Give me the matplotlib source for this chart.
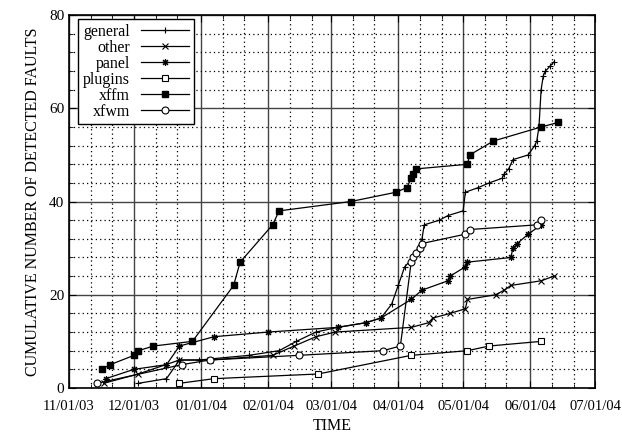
import matplotlib
matplotlib.use('Agg')
import matplotlib.pyplot as plt
import matplotlib.dates as mdates
import pandas as pd

plt.rcParams['font.family'] = ['Liberation Serif', 'DejaVu Serif']

# cumulative detected faults per component
general_dates = ['2003-12-03', '2003-12-16', '2003-12-22', '2003-12-31', '2004-01-23',
                 '2004-02-06', '2004-02-14', '2004-02-23', '2004-03-04', '2004-03-17',
                 '2004-03-24', '2004-03-29', '2004-04-01', '2004-04-04', '2004-04-08',
                 '2004-04-12', '2004-04-13', '2004-04-20', '2004-04-24', '2004-05-01',
                 '2004-05-02', '2004-05-08', '2004-05-13', '2004-05-19', '2004-05-20',
                 '2004-05-22', '2004-05-24', '2004-05-31', '2004-06-03', '2004-06-04',
                 '2004-06-05', '2004-06-06', '2004-06-07', '2004-06-08', '2004-06-10',
                 '2004-06-12']
general_counts = [1, 2, 6, 6, 7, 8, 10, 12, 13, 14, 15, 18, 22, 26, 28, 32, 35, 36, 37, 38,
                  42, 43, 44, 45, 46, 47, 49, 50, 52, 53, 56, 64, 67, 68, 69, 70]

other_dates = ['2003-11-17', '2003-12-03', '2003-12-22', '2004-01-05', '2004-02-03',
               '2004-02-13', '2004-02-23', '2004-03-03', '2004-04-07', '2004-04-15',
               '2004-04-17', '2004-04-25', '2004-05-02', '2004-05-03', '2004-05-16',
               '2004-05-20', '2004-05-23', '2004-06-06', '2004-06-12']
other_counts = [1, 3, 6, 6, 7, 9, 11, 12, 13, 14, 15, 16, 17, 19, 20, 21, 22, 23, 24]

panel_dates = ['2003-11-18', '2003-12-01', '2003-12-16', '2003-12-22', '2004-01-07',
               '2004-02-01', '2004-03-04', '2004-03-17', '2004-03-24', '2004-04-07',
               '2004-04-12', '2004-04-24', '2004-04-25', '2004-05-02', '2004-05-03',
               '2004-05-23', '2004-05-24', '2004-05-26', '2004-05-31', '2004-06-06']
panel_counts = [2, 4, 5, 9, 11, 12, 13, 14, 15, 19, 21, 23, 24, 26, 27, 28, 30, 31, 33, 35]

plugins_dates = ['2003-12-22', '2004-01-07', '2004-02-24', '2004-04-07', '2004-05-03',
                 '2004-05-13', '2004-06-06']
plugins_counts = [1, 2, 3, 7, 8, 9, 10]

xffm_dates = ['2003-11-16', '2003-11-20', '2003-12-01', '2003-12-03', '2003-12-10',
              '2003-12-28', '2004-01-16', '2004-01-19', '2004-02-03', '2004-02-06',
              '2004-03-10', '2004-03-31', '2004-04-05', '2004-04-07', '2004-04-08',
              '2004-04-09', '2004-05-03', '2004-05-04', '2004-05-15', '2004-06-06',
              '2004-06-14']
xffm_counts = [4, 5, 7, 8, 9, 10, 22, 27, 35, 38, 40, 42, 43, 45, 46, 47, 48, 50, 53, 56, 57]

xfwm_dates = ['2003-11-14', '2003-12-23', '2004-01-05', '2004-02-15', '2004-03-25',
              '2004-04-02', '2004-04-07', '2004-04-08', '2004-04-09', '2004-04-11',
              '2004-04-12', '2004-05-02', '2004-05-04', '2004-06-04', '2004-06-06']
xfwm_counts = [1, 5, 6, 7, 8, 9, 27, 28, 29, 30, 31, 33, 34, 35, 36]

month_ticks = ['2003-11-01', '2003-12-01', '2004-01-01', '2004-02-01', '2004-03-01',
               '2004-04-01', '2004-05-01', '2004-06-01', '2004-07-01']

fig = plt.figure(figsize=(6.22, 4.33), dpi=100)
ax = fig.add_axes([0.111, 0.104, 0.846, 0.861])

series = [
    ('general', general_dates, general_counts, dict(marker='+', ms=5, mew=0.8)),
    ('other', other_dates, other_counts, dict(marker='x', ms=4, mew=0.8)),
    ('panel', panel_dates, panel_counts, dict(marker=(8, 2, 0), ms=5, mew=0.8)),
    ('plugins', plugins_dates, plugins_counts, dict(marker='s', ms=5, mfc='white', mew=0.8)),
    ('xffm', xffm_dates, xffm_counts, dict(marker='s', ms=4.5, mfc='black')),
    ('xfwm', xfwm_dates, xfwm_counts, dict(marker='o', ms=5, mfc='white', mew=0.8)),
]
for name, d, c, style in series:
    ax.plot(pd.to_datetime(d), c, color='black', lw=0.9, label=name, **style)

ax.set_xlim(pd.Timestamp(month_ticks[0]), pd.Timestamp(month_ticks[-1]))
ax.set_ylim(0, 80)
ax.set_xticks(pd.to_datetime(month_ticks))
ax.xaxis.set_major_formatter(mdates.DateFormatter('%m/%d/%y'))
ax.xaxis.set_minor_locator(mdates.DayLocator(bymonthday=[11, 21]))
ax.set_yticks([0, 20, 40, 60, 80])
ax.set_yticks(range(0, 81, 4), minor=True)

ax.grid(True, which='major', color='#444444', lw=1.0, ls='-')
ax.grid(True, which='minor', color='black', lw=0.9, ls=(0, (1, 2.5)))
ax.set_axisbelow(True)
ax.tick_params(which='both', direction='in', top=True, right=True, labelsize=11)
ax.tick_params(axis='x', labelsize=10.5, pad=9)
ax.tick_params(which='major', length=5)
ax.tick_params(which='minor', length=3)
for s in ax.spines.values():
    s.set_linewidth(1.2)

ax.set_xlabel('TIME', fontsize=11.5, labelpad=3)
ax.set_ylabel('CUMULATIVE NUMBER OF DETECTED FAULTS', fontsize=11.5, labelpad=6)

leg = ax.legend(loc='upper left', bbox_to_anchor=(0.017, 0.99), borderaxespad=0,
                markerfirst=False, fontsize=11.5, handlelength=3.0, labelspacing=0.0,
                fancybox=False, framealpha=1, edgecolor='black', borderpad=0.3,
                handletextpad=0.7)
leg.get_frame().set_linewidth(1.0)

fig.savefig('out.png', dpi=100)
